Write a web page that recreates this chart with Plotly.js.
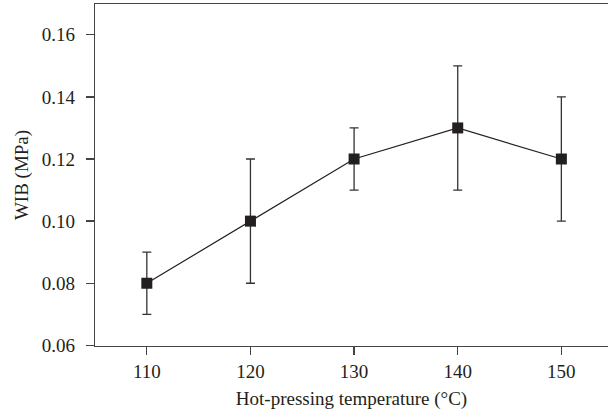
<!DOCTYPE html>
<html>
<head>
<meta charset="utf-8">
<script src="https://cdn.plot.ly/plotly-3.0.1.min.js"></script>
<style>html,body{margin:0;padding:0;background:#fff;}#chart{width:608px;height:419px;}</style>
</head>
<body>
<div id="chart"></div>
<script>
const temperatures = [110, 120, 130, 140, 150];
const wibValues = [0.08, 0.10, 0.12, 0.13, 0.12];
const wibErrors = [0.01, 0.02, 0.01, 0.02, 0.02];
const yTicks = [0.06, 0.08, 0.10, 0.12, 0.14, 0.16];
const yTickLabels = ['0.06', '0.08', '0.10', '0.12', '0.14', '0.16'];

const trace = {
  x: temperatures,
  y: wibValues,
  type: 'scatter',
  mode: 'lines+markers',
  line: {color: '#231f20', width: 1.2},
  marker: {symbol: 'square', size: 11, color: '#231f20'},
  error_y: {type: 'data', array: wibErrors, visible: true, color: '#333', thickness: 1.3, width: 4.5}
};
const font = {family: '"Liberation Serif", "DejaVu Serif", serif', size: 19, color: '#231f20'};
const layout = {
  width: 608, height: 419,
  margin: {l: 95, r: 0, t: 4, b: 73},
  paper_bgcolor: '#fff', plot_bgcolor: '#fff',
  showlegend: false,
  font: font,
  xaxis: {
    range: [105, 154.5],
    tickvals: temperatures,
    ticks: 'outside', ticklen: 8, tickwidth: 1.3, tickcolor: '#444',
    showline: true, linecolor: '#444', linewidth: 1.3, mirror: true,
    showgrid: false, zeroline: false,
    tickfont: font,
    title: {text: 'Hot-pressing temperature (°C)', font: font, standoff: 10}
  },
  yaxis: {
    range: [0.0598, 0.1699],
    tickvals: yTicks, ticktext: yTickLabels,
    ticks: 'outside', ticklen: 8, tickwidth: 1.3, tickcolor: '#444',
    ticklabelstandoff: 7,
    showline: true, linecolor: '#444', linewidth: 1.3,
    showgrid: false, zeroline: false,
    tickfont: font,
    title: {text: 'WIB (MPa)', font: font, standoff: 8}
  }
};
Plotly.newPlot('chart', [trace], layout, {displayModeBar: false, staticPlot: true});
</script>
</body>
</html>
